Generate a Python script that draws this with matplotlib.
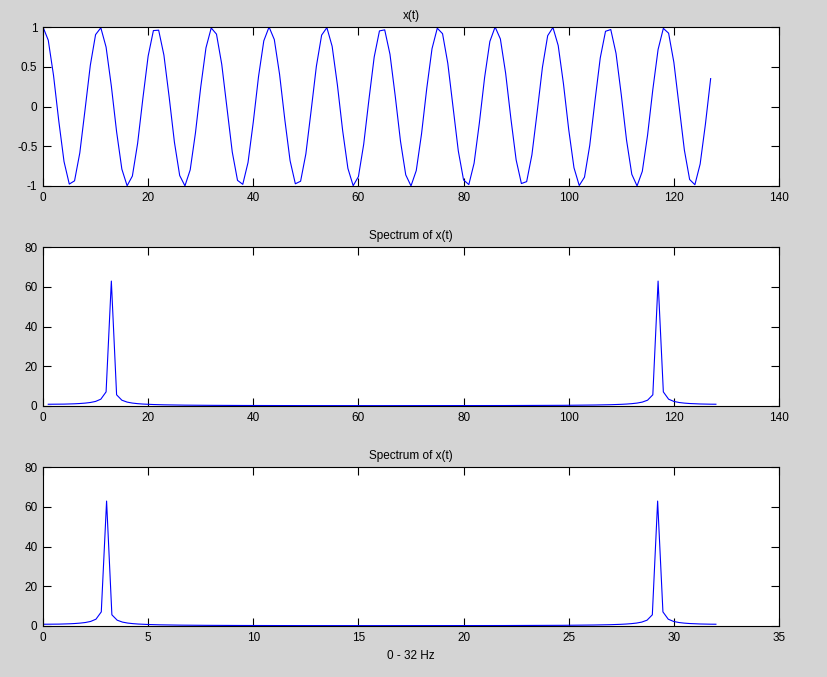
import numpy as np
import matplotlib
matplotlib.use("Agg")
import matplotlib.pyplot as plt

# ---- data ----
x_t = [1.000, 0.834, 0.392, -0.181, -0.693, -0.976, -0.935, -0.584, -0.039, 0.518,
       0.904, 0.990, 0.747, 0.257, -0.318, -0.788, -0.997, -0.875, -0.463, 0.103,
       0.634, 0.955, 0.960, 0.646, 0.118, -0.450, -0.868, -0.998, -0.797, -0.332,
       0.243, 0.738, 0.988, 0.910, 0.531, -0.025, -0.572, -0.929, -0.979, -0.704,
       -0.195, 0.378, 0.826, 1.000, 0.842, 0.405, -0.166, -0.682, -0.972, -0.940,
       -0.596, -0.054, 0.506, 0.898, 0.992, 0.757, 0.271, -0.304, -0.779, -0.996,
       -0.882, -0.476, 0.088, 0.623, 0.951, 0.964, 0.657, 0.132, -0.436, -0.860,
       -0.999, -0.806, -0.346, 0.229, 0.728, 0.985, 0.916, 0.543, -0.010, -0.560,
       -0.924, -0.982, -0.714, -0.209, 0.364, 0.818, 1.000, 0.850, 0.419, -0.152,
       -0.672, -0.969, -0.945, -0.607, -0.069, 0.493, 0.891, 0.994, 0.767, 0.286,
       -0.290, -0.770, -0.994, -0.889, -0.489, 0.074, 0.611, 0.946, 0.968, 0.668,
       0.147, -0.423, -0.853, -0.999, -0.815, -0.360, 0.214, 0.717, 0.983, 0.922,
       0.556, 0.005, -0.548, -0.918, -0.984, -0.724, -0.224, 0.351]

spectrum = [0.88, 0.89, 0.91, 0.95, 1.02, 1.11, 1.25, 1.45, 1.76, 2.30,
            3.43, 7.10, 62.86, 5.63, 2.92, 1.96, 1.47, 1.18, 0.98, 0.84,
            0.74, 0.65, 0.59, 0.54, 0.50, 0.46, 0.43, 0.40, 0.38, 0.36,
            0.34, 0.33, 0.31, 0.30, 0.29, 0.28, 0.27, 0.26, 0.25, 0.25,
            0.24, 0.235, 0.23, 0.225, 0.22, 0.215, 0.21, 0.21, 0.205, 0.20,
            0.20, 0.198, 0.196, 0.194, 0.192, 0.190, 0.189, 0.188, 0.187, 0.186,
            0.186, 0.185, 0.185, 0.184, 0.184, 0.184, 0.185, 0.185, 0.186, 0.186,
            0.187, 0.188, 0.189, 0.190, 0.192, 0.194, 0.196, 0.198, 0.20, 0.20,
            0.205, 0.21, 0.21, 0.215, 0.22, 0.225, 0.23, 0.235, 0.24, 0.25,
            0.25, 0.26, 0.27, 0.28, 0.29, 0.30, 0.31, 0.33, 0.34, 0.36,
            0.38, 0.40, 0.43, 0.46, 0.50, 0.54, 0.59, 0.65, 0.74, 0.84,
            0.98, 1.18, 1.47, 1.96, 2.92, 5.63, 62.86, 7.10, 3.43, 2.30,
            1.76, 1.45, 1.25, 1.11, 1.02, 0.95, 0.91, 0.89]

titles = ["x(t)", "Spectrum of x(t)", "Spectrum of x(t)"]
xlabel3 = "0 - 32 Hz"
xticks = [[0, 20, 40, 60, 80, 100, 120, 140],
          [0, 20, 40, 60, 80, 100, 120, 140],
          [0, 5, 10, 15, 20, 25, 30, 35]]
yticks = [[-1, -0.5, 0, 0.5, 1], [0, 20, 40, 60, 80], [0, 20, 40, 60, 80]]
ytick_labels = [["-1", "-0.5", "0", "0.5", "1"],
                ["0", "20", "40", "60", "80"],
                ["0", "20", "40", "60", "80"]]

samples = np.arange(len(x_t))              # 0 .. 127
bins = np.arange(1, len(spectrum) + 1)     # 1 .. 128
freq_hz = np.linspace(0, 32, len(spectrum))

plt.rcParams['font.family'] = ['Liberation Sans', 'DejaVu Sans']
plt.rcParams['axes.unicode_minus'] = False
plt.rcParams['font.size'] = 8.5

W, H = 828, 677
fig = plt.figure(figsize=(W / 100, H / 100), dpi=100)
bg = (0.83, 0.83, 0.83)
fig.patch.set_facecolor(bg)

left, right = 43, 779
tops_bottoms = [(27, 186), (247, 406), (467, 626)]
series = [(samples, x_t), (bins, spectrum), (freq_hz, spectrum)]
xlims = [(0, 140), (0, 140), (0, 35)]
ylims = [(-1, 1), (0, 80), (0, 80)]

for i in range(3):
    top, bot = tops_bottoms[i]
    ax = fig.add_axes([left / W, (H - bot) / H, (right - left) / W, (bot - top) / H])
    ax.set_facecolor('white')
    xs, ys = series[i]
    ax.plot(xs, ys, color=(0, 0, 1), linewidth=0.8)
    ax.set_xlim(*xlims[i])
    ax.set_ylim(*ylims[i])
    ax.set_xticks(xticks[i])
    ax.set_xticklabels([str(v) for v in xticks[i]])
    ax.set_yticks(yticks[i])
    ax.set_yticklabels(ytick_labels[i])
    ax.tick_params(direction='in', length=5.5, width=0.8, top=True, right=True,
                   labelsize=8.5, colors='black')
    ax.tick_params(axis='x', pad=4.5)
    ax.tick_params(axis='y', pad=4)
    for s in ax.spines.values():
        s.set_linewidth(0.8)
        s.set_color('black')
    ax.set_title(titles[i], fontsize=8.5, pad=6)
    if i == 2:
        ax.set_xlabel(xlabel3, fontsize=8.5, labelpad=4)

fig.savefig("out.png", dpi=100, facecolor=bg)
